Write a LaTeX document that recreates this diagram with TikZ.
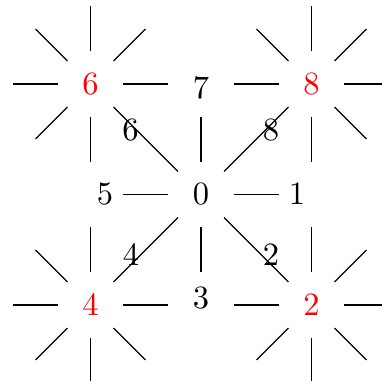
\documentclass[tikz,border=0pt]{standalone}
\begin{document}
\begin{tikzpicture}[x=0.3077pt,y=-0.3077pt,
  hub/.style={circle,minimum size=19.7pt,inner sep=0pt},
  corner/.style={hub,text=red},
  lab/.style={inner sep=0pt}]
\useasboundingbox (0,0) rectangle (382,381);
\node[hub] (c0) at (201,194.5) {0};
\node[corner] (c6) at (90.5,84) {6};
\node[corner] (c8) at (311.5,84) {8};
\node[corner] (c4) at (90.5,305) {4};
\node[corner] (c2) at (311.5,305) {2};
% spokes
\foreach \a in {0,90,180,270} \draw (c0.\a) -- ++(\a:13.85pt);
\foreach \a in {0,45,90,135,180,225,270} \draw (c6.\a) -- ++(\a:13.85pt);
\foreach \a in {0,45,90,135,180,270,315} \draw (c8.\a) -- ++(\a:13.85pt);
\foreach \a in {0,90,135,180,225,270,315} \draw (c4.\a) -- ++(\a:13.85pt);
\foreach \a in {0,45,90,180,225,270,315} \draw (c2.\a) -- ++(\a:13.85pt);
% diagonal connectors
\draw (c6) -- (c0);
\draw (c8) -- (c0);
\draw (c4) -- (c0);
\draw (c2) -- (c0);
% labels
\node[lab] (l7) at (201,88) {7};
\node[lab] (l5) at (105,194) {5};
\node[lab] (l1) at (297,194) {1};
\node[lab] (l3) at (201,298) {3};
\node[lab] (l6) at (130.5,130) {6};
\node[lab] (l8) at (271,130) {8};
\node[lab] (l4) at (131,254.5) {4};
\node[lab] (l2) at (271,255) {2};
\end{tikzpicture}
\end{document}
